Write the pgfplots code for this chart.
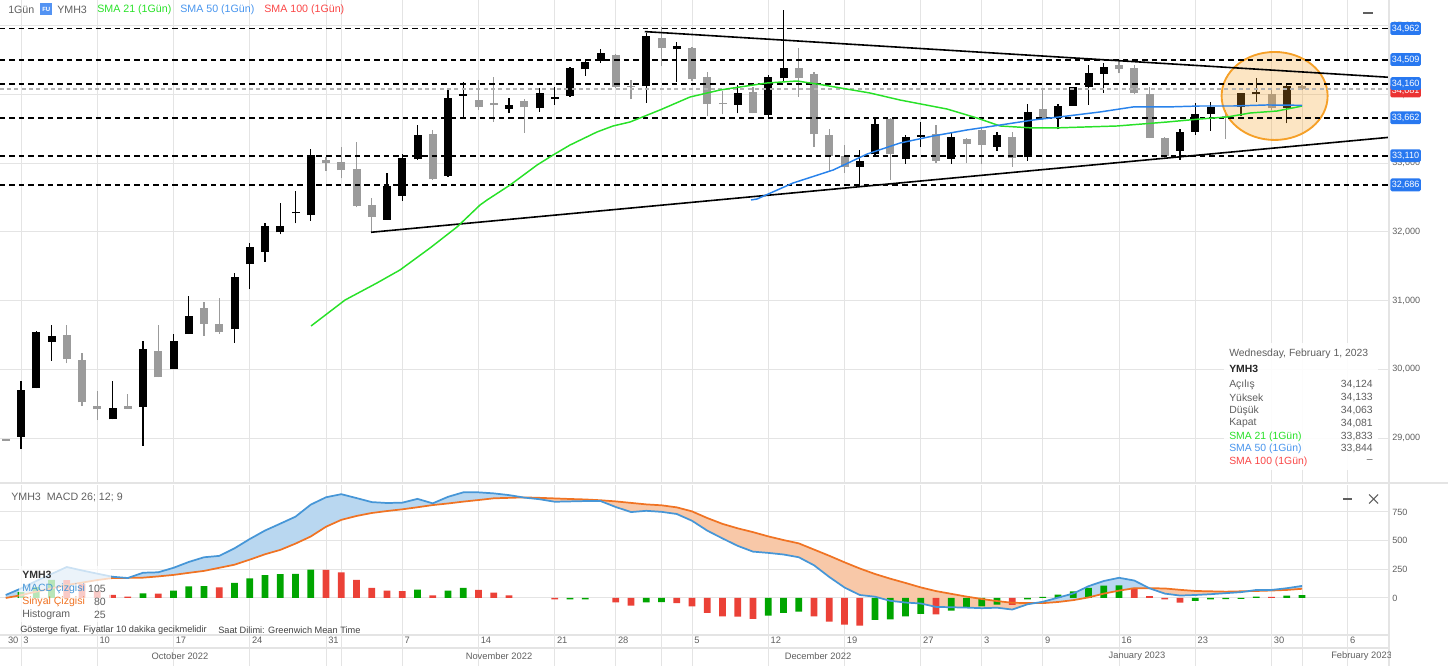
\documentclass[border=0pt]{standalone}
\usepackage{pgfplots}
\pgfplotsset{compat=1.18}
\usepackage{pgfplotstable}
\usepgfplotslibrary{fillbetween}
\usepackage{fontspec}
\setmainfont{Liberation Sans}
\newcommand\fs[1]{\fontsize{#1}{#1}\selectfont}
\definecolor{dnc}{RGB}{155,155,155}
\definecolor{smag}{RGB}{40,225,40}
\definecolor{smab}{RGB}{40,130,235}
\definecolor{smar}{RGB}{250,70,70}
\definecolor{macdb}{RGB}{70,150,215}
\definecolor{macdf}{RGB}{185,215,240}
\definecolor{sigo}{RGB}{240,115,35}
\definecolor{sigf}{RGB}{248,200,168}
\definecolor{hg}{RGB}{0,165,0}
\definecolor{hr}{RGB}{235,65,55}
\definecolor{tagb}{RGB}{40,120,240}
\definecolor{tagr}{RGB}{235,50,50}
\definecolor{gridc}{RGB}{228,228,228}
\definecolor{txtg}{RGB}{95,95,95}
\definecolor{circo}{RGB}{245,160,40}

\pgfplotstableread{
i o h l c
0 29020 29831 28841 29700
1 29725 30559 29725 30540
2 30403 30646 30127 30491
6 29274 29831 29274 29443
8 29457 30413 28885 30293
10 30001 30515 30001 30418
11 30515 31068 30515 30782
14 30584 31403 30389 31345
15 31530 31836 31166 31777
16 31713 32127 31568 32092
17 31996 32418 31967 32092
18 32272 32597 32127 32295
19 32247 33204 32164 33121
24 32175 32863 32175 32670
25 32528 33135 32456 33073
26 33058 33557 33048 33412
28 32815 34067 32805 33955
29 33980 34188 33655 34009
32 33795 33946 33737 33844
34 33800 34092 33751 34019
35 33940 34115 33849 33969
36 33980 34406 33969 34383
37 34368 34504 34271 34479
38 34493 34659 34464 34610
41 34125 34901 33882 34853
43 34659 34770 34188 34707
47 33849 34140 33728 34028
49 33703 34285 33670 34261
50 34237 35231 34188 34383
55 32951 33194 32670 33038
56 33131 33670 33106 33568
58 33058 33412 32990 33378
59 33383 33606 33242 33412
61 33063 33445 32990 33378
64 33242 33460 33183 33412
66 33087 33863 33038 33751
68 33655 33863 33495 33834
69 33838 34115 33834 34106
70 34115 34431 33849 34319
71 34300 34456 34028 34406
76 33179 33495 33048 33460
77 33460 33873 33412 33718
78 33718 33897 33475 33815
80 33824 34019 33688 34019
81 34004 34237 33897 34042
83 33800 34154 33582 34125
}\candleup

\pgfplotstableread{
i o h l c
-1 28980 28990 28955 28965
3 30501 30646 30089 30151
4 30137 30234 29467 29521
5 29467 29690 29264 29419
7 29467 29642 29428 29430
9 30268 30646 29885 29885
12 30889 30985 30491 30661
13 30661 31039 30520 30540
20 33048 33096 32892 33000
21 33015 33242 32782 32902
22 32913 33314 32360 32378
23 32393 32491 31990 32223
27 33426 33480 32757 32767
30 33921 34212 33776 33815
31 33882 34261 33606 33844
33 33907 33932 33445 33815
39 34576 34590 34096 34115
40 34125 34212 33932 34111
42 34819 34988 34416 34674
44 34674 34690 34200 34223
45 34252 34333 33688 33863
46 33870 34057 33713 33856
48 34033 34106 33728 33737
51 34383 34674 33969 34246
52 34300 34333 33242 33422
53 33412 33495 32878 33111
54 33106 33266 32863 32951
57 33640 33655 32757 33135
60 33426 33557 33004 33038
62 33349 33364 32999 33281
63 33485 33509 32990 33266
65 33378 33460 32951 33073
67 33786 34067 33630 33655
72 34431 34504 34310 34368
73 34383 34431 34004 34019
74 34004 34115 33364 33373
75 33364 33380 33090 33106
79 33690 33780 33354 33680
82 34004 34077 33780 33800
84 34124 34133 34063 34081
}\candledn

\pgfplotstableread{
i m s
-1 26 0
0 83 24
1 148 55
2 209 84
3 270 113
4 240 134
5 212 156
6 185 174
7 174 175
8 220 177
9 224 188
10 263 201
11 314 219
12 355 236
13 367 263
14 433 290
15 514 334
16 588 381
17 648 419
18 709 474
19 814 536
20 878 621
21 905 681
22 871 715
23 836 741
24 828 758
25 831 773
26 864 791
27 825 810
28 882 824
29 921 840
30 921 854
31 912 869
32 897 873
33 875 877
34 861 873
35 839 868
36 842 863
37 845 859
38 845 852
39 793 842
40 749 829
41 760 816
42 751 808
43 732 790
44 673 755
45 587 697
46 519 646
47 454 607
48 404 574
49 393 537
50 379 505
51 355 476
52 285 422
53 183 368
54 91 311
55 26 257
56 11 209
57 -25 168
58 -40 131
59 -48 92
60 -78 60
61 -81 36
62 -84 12
63 -89 -9
64 -85 -27
65 -101 -42
66 -55 -44
67 -33 -45
68 3 -35
69 39 -19
70 103 5
71 148 38
72 176 64
73 152 85
74 84 85
75 38 83
76 21 71
77 26 61
78 33 58
79 42 55
80 51 58
81 70 61
82 70 65
83 85 70
84 105 80
}\macdtab

\pgfplotstableread{
i v
0 50
1 95
2 157
8 40
10 64
11 102
12 104
14 131
15 171
16 200
17 207
18 210
19 247
26 73
28 64
29 87
36 -12
37 -12
41 -38
42 -36
49 -154
50 -131
51 -119
56 -192
57 -186
58 -160
59 -139
61 -110
62 -87
63 -73
64 -58
66 -12
67 10
68 29
69 58
70 87
71 107
72 110
77 -25
78 -12
79 -10
80 -8
81 12
83 20
84 25
}\histg

\pgfplotstableread{
i v
3 155
4 125
5 60
6 26
7 12
9 38
13 93
20 245
21 224
22 157
23 87
24 64
25 60
27 23
30 70
31 46
32 23
35 -12
39 -38
40 -67
43 -44
44 -73
45 -131
46 -160
47 -162
48 -183
52 -160
53 -206
54 -232
55 -241
60 -142
65 -60
73 87
74 15
75 -12
76 -40
82 10
}\histr

\pgfplotsset{
  panel/.style={
    scale only axis, anchor=north west, width=1041.75pt,
    xmin=-1.377, xmax=89.705,
    axis line style={draw=none},
    major tick length=0pt, minor tick length=0pt,
    xtick={0,5,10,15,20,25,30,35,39,44,49,54,59,63,67,72,77,82,87},
    minor xtick={21,42,84},
    xmajorgrids=true, xminorgrids=true, ymajorgrids=true,
    major grid style={gridc, line width=0.75pt},
    minor grid style={gridc, line width=0.75pt},
    scaled y ticks=false,
    yticklabel pos=right,
    yticklabel style={anchor=west, inner sep=0pt, font=\fs{6.8}, text=txtg},
    /pgf/number format/1000 sep={,},
    /pgf/number format/assume math mode=true,
  },
  wick/.style={draw=none, mark=none, error bars/.cd, y dir=plus, y explicit, error mark=none,
    error bar style={draw=#1, solid, line width=0.9pt}},
  body/.style={draw=none, mark=none, error bars/.cd, y dir=plus, y explicit, error mark=none,
    error bar style={draw=#1, solid, line width=6pt}},
  hline/.style={black, line width=1.4pt, dash pattern=on 4.2pt off 3pt},
}

\begin{document}
\begin{tikzpicture}[x=0.75pt,y=-0.75pt]

% ---------------- price panel ----------------
\begin{axis}[panel, at={(0pt,0pt)}, height=361.5pt,
  ymin=28361, ymax=35377,
  xticklabels={},
  ytick={29000,30000,31000,32000,33000,34000,35000},
  yticklabel style={xshift=2.3pt},
]
\addplot[wick=black] table[x=i, y=l, y error plus expr={\thisrow{h}-\thisrow{l}}] {\candleup};
\addplot[wick=dnc] table[x=i, y=l, y error plus expr={\thisrow{h}-\thisrow{l}}] {\candledn};
\addplot[body=black] table[x=i, y=o, y error plus expr={max(\thisrow{c}-\thisrow{o},15)}] {\candleup};
\addplot[body=dnc] table[x=i, y=c, y error plus expr={max(\thisrow{o}-\thisrow{c},15)}] {\candledn};
\fill[circo, fill opacity=0.28] (axis cs:82.2,33980) ellipse [x radius=39.75pt, y radius=33pt];
\draw[circo, line width=1.4pt] (axis cs:82.2,33980) ellipse [x radius=39.75pt, y radius=33pt];
\addplot[gray!60, line width=0.8pt, dash pattern=on 3pt off 2.5pt] coordinates {(-1.4,34081) (89.8,34081)};
\addplot[hline] coordinates {(-1.4,34962) (89.8,34962)};
\addplot[hline] coordinates {(-1.4,34509) (89.8,34509)};
\addplot[hline] coordinates {(-1.4,34160) (89.8,34160)};
\addplot[hline] coordinates {(-1.4,33662) (89.8,33662)};
\addplot[hline] coordinates {(-1.4,33110) (89.8,33110)};
\addplot[hline] coordinates {(-1.4,32686) (89.8,32686)};
\addplot[black, line width=1.2pt] coordinates {(40.9,34917) (89.7,34252)};
\addplot[black, line width=1.2pt] coordinates {(22.95,31996) (89.7,33378)};
\addplot[smag, line width=1.1pt] coordinates {
(19.02,30632) (21.25,31010) (23.34,31258) (24.85,31447) (26.82,31767) (28.59,32073)
(30.10,32393) (30.56,32466) (32.07,32684) (33.84,32975) (34.89,33121) (36.0,33266)
(37.77,33456) (38.82,33543) (39.93,33601) (41.90,33776) (43.87,33965) (45.84,34067)
(46.69,34096) (48.92,34169) (50.89,34198) (52.59,34140) (55.67,34023) (57.64,33921)
(60.72,33790) (62.69,33659) (64.20,33543) (66.36,33514) (67.67,33514) (71.87,33543)
(75.15,33601) (77.31,33645) (79.08,33674) (80.59,33732) (82.36,33761) (84.0,33833)};
\addplot[smab, line width=1.1pt] coordinates {
(47.87,32466) (48.26,32480) (50.62,32713) (53.25,32902) (55.48,33135) (57.64,33295)
(59.80,33397) (62.03,33485) (64.20,33557) (66.36,33630) (68.59,33688) (70.75,33747)
(72.92,33820) (75.15,33820) (77.31,33834) (79.48,33834) (81.70,33849) (84.0,33844)};
\end{axis}

% ---------------- MACD panel ----------------
\begin{axis}[panel, at={(0pt,-363.75pt)}, height=112.5pt,
  ymin=-323, ymax=985,
  ytick={0,250,500,750},
  yticklabel style={xshift=2.3pt},
  xticklabels={3,10,17,24,31,7,14,21,28,5,12,19,27,3,9,16,23,30,6},
  extra x ticks={-1}, extra x tick labels={30},
  extra x tick style={grid=none},
  xticklabel style={anchor=north west, inner sep=0pt, xshift=1.5pt, yshift=-1.5pt, font=\fs{7}, text=txtg},
]
\addplot[draw=none, name path=mA] table[x=i, y=m] {\macdtab};
\addplot[draw=none, name path=sA] table[x=i, y=s] {\macdtab};
\addplot[draw=none, name path=nA] table[x=i, y expr={min(\thisrow{m},\thisrow{s})}] {\macdtab};
\addplot[fill=macdf, draw=none] fill between[of=mA and nA];
\addplot[fill=sigf, draw=none] fill between[of=sA and nA];
\addplot[ybar, bar width=0.44, bar shift=0pt, fill=hg, draw=none] table[x=i, y=v] {\histg};
\addplot[ybar, bar width=0.44, bar shift=0pt, fill=hr, draw=none] table[x=i, y=v] {\histr};
\addplot[sigo, line width=1.3pt] table[x=i, y=s] {\macdtab};
\addplot[macdb, line width=1.3pt] table[x=i, y=m] {\macdtab};
\end{axis}

% ---------------- frame lines ----------------
\draw[gridc, line width=0.9pt] (0,483) -- (1448,483);
\draw[gridc, line width=0.9pt] (0,635) -- (1389,635);
\draw[gridc, line width=0.9pt] (0,648) -- (1389,648);
\draw[gridc, line width=0.9pt] (1389,0) -- (1389,666);
\foreach \xx in {21,97.25,173.5,249.75,326,402.25,478.5,554.75,615.75,692,768.25,844.5,920.75,981.75,1042.75,1119,1195.25,1271.5,1347.75} {
  \draw[gridc, line width=0.75pt] (\xx,635) -- (\xx,666);
}
\foreach \xx in {341.25,661.5,1302} {
  \draw[gridc, line width=0.75pt] (\xx,635) -- (\xx,666);
}

% ---------------- price tags ----------------
\tikzset{tag/.style={fill=#1, text=white, rounded corners=1.2pt, inner sep=0pt,
  minimum width=23pt, minimum height=9.6pt, font=\fs{6.8}, anchor=west}}
\node[tag=tagr] at (1390,91) {34,081};
\node[tag=tagb] at (1390,28.5) {34,962};
\node[tag=tagb] at (1390,59.6) {34,509};
\node[tag=tagb] at (1390,83.6) {34,160};
\node[tag=tagb] at (1390,117.8) {33,662};
\node[tag=tagb] at (1390,155.7) {33,110};
\node[tag=tagb] at (1390,184.9) {32,686};

% ---------------- top legend ----------------
\node[anchor=west, inner sep=0pt, font=\fs{8}, text=txtg] at (8,9.5) {1Gün};
\node[anchor=west, inner sep=0pt, fill=tagb!80, text=white, font=\bfseries\fs{4.5}, minimum width=9pt, minimum height=9pt] at (40,9.5) {FU};
\node[anchor=west, inner sep=0pt, font=\fs{8}, text=txtg] at (57,9.5) {YMH3};
\node[anchor=west, inner sep=0pt, font=\fs{8}, text=smag] at (97,9.5) {SMA 21 (1Gün)};
\node[anchor=west, inner sep=0pt, font=\fs{8}, text=smab!85] at (180,9.5) {SMA 50 (1Gün)};
\node[anchor=west, inner sep=0pt, font=\fs{8}, text=smar] at (264,9.5) {SMA 100 (1Gün)};
\draw[txtg, line width=0.8pt] (1363,13) -- (1373,13);

% ---------------- info box ----------------
\fill[white, fill opacity=0.92] (1224,343) rectangle (1378,470);
\node[anchor=west, inner sep=0pt, font=\fs{7.8}, text=txtg] at (1229,354) {Wednesday, February 1, 2023};
\node[anchor=west, inner sep=0pt, font=\bfseries\fs{7.8}, text=black!85] at (1229,369) {YMH3};
\foreach \lab/\val/\yy in {Açılış/34{,}124/384.5, Yüksek/34{,}133/397.5, Düşük/34{,}063/410.5, Kapat/34{,}081/423.5} {
  \node[anchor=west, inner sep=0pt, font=\fs{7.8}, text=txtg] at (1229,\yy) {\lab};
  \node[anchor=east, inner sep=0pt, font=\fs{7.8}, text=txtg] at (1373,\yy) {\val};
}
\node[anchor=west, inner sep=0pt, font=\fs{7.8}, text=smag] at (1229,436.5) {SMA 21 (1Gün)};
\node[anchor=east, inner sep=0pt, font=\fs{7.8}, text=txtg] at (1373,436.5) {33,833};
\node[anchor=west, inner sep=0pt, font=\fs{7.8}, text=smab!85] at (1229,449) {SMA 50 (1Gün)};
\node[anchor=east, inner sep=0pt, font=\fs{7.8}, text=txtg] at (1373,449) {33,844};
\node[anchor=west, inner sep=0pt, font=\fs{7.8}, text=smar] at (1229,461.5) {SMA 100 (1Gün)};
\node[anchor=east, inner sep=0pt, font=\fs{7.8}, text=txtg] at (1373,461.5) {–};

% ---------------- MACD legend ----------------
\node[anchor=west, inner sep=0pt, font=\fs{8}, text=txtg] at (11,497) {YMH3\ \ MACD 26; 12; 9};
\draw[txtg, line width=0.8pt] (1343,499) -- (1352,499);
\draw[txtg, line width=0.8pt] (1369,494.5) -- (1378,503.5) (1369,503.5) -- (1378,494.5);
\fill[white, fill opacity=0.72] (19,566) rectangle (111,622);
\node[anchor=west, inner sep=0pt, font=\bfseries\fs{7.9}, text=black!80] at (22,574.5) {YMH3};
\node[anchor=west, inner sep=0pt, font=\fs{7.9}, text=macdb] at (22,589) {MACD çizgisi};
\node[anchor=east, inner sep=0pt, font=\fs{7.9}, text=txtg] at (106,589) {105};
\node[anchor=west, inner sep=0pt, font=\fs{7.9}, text=sigo] at (22,601.5) {Sinyal Çizgisi};
\node[anchor=east, inner sep=0pt, font=\fs{7.9}, text=txtg] at (106,601.5) {80};
\node[anchor=west, inner sep=0pt, font=\fs{7.9}, text=txtg] at (22,615) {Histogram};
\node[anchor=east, inner sep=0pt, font=\fs{7.9}, text=txtg] at (106,615) {25};
\node[anchor=west, inner sep=0pt, font=\fs{6.9}, text=black!75] at (20,630) {Gösterge fiyat. Fiyatlar 10 dakika gecikmelidir};
\node[anchor=west, inner sep=0pt, font=\fs{6.9}, text=black!75] at (218,630) {Saat Dilimi: Greenwich Mean Time};

% ---------------- month labels ----------------
\node[inner sep=0pt, font=\fs{7}, text=txtg] at (180,656) {October 2022};
\node[inner sep=0pt, font=\fs{7}, text=txtg] at (499,656) {November 2022};
\node[inner sep=0pt, font=\fs{7}, text=txtg] at (818,656) {December 2022};
\node[inner sep=0pt, font=\fs{7}, text=txtg] at (1137,656) {January 2023};
\begin{scope}
\clip (1304,648) rectangle (1390,666);
\node[anchor=west, inner sep=0pt, font=\fs{7}, text=txtg] at (1331,656) {February 2023};
\end{scope}
\pgfresetboundingbox
\useasboundingbox (0,0) rectangle (1448,666);
\end{tikzpicture}
\end{document}
